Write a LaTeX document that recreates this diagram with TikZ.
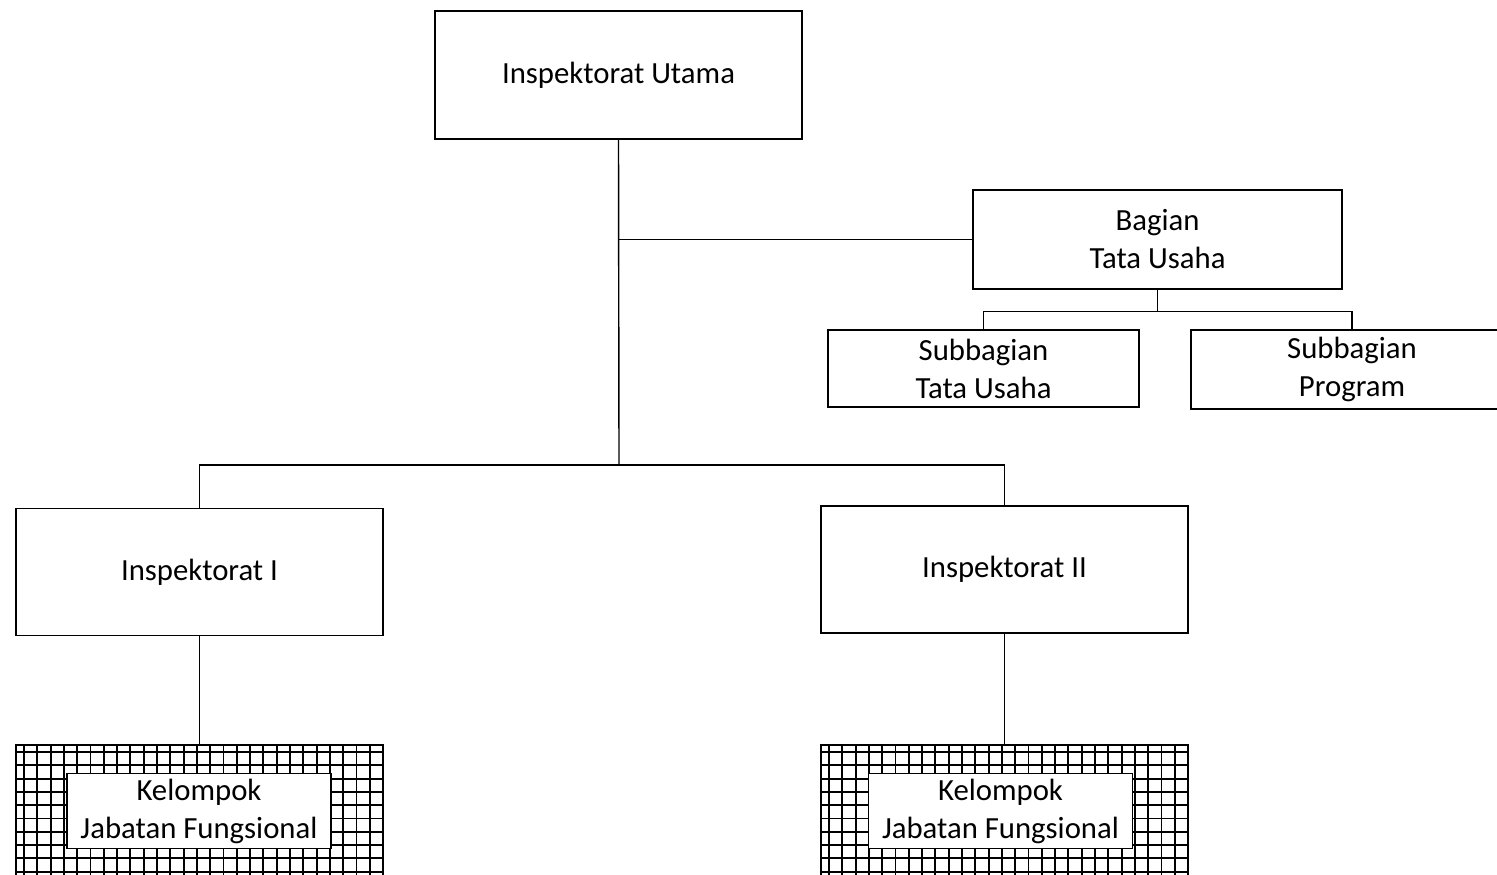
\documentclass[tikz,border=0pt]{standalone}
\usepackage{fontspec}
\setmainfont{Carlito}
\usetikzlibrary{positioning}
\newcommand{\lbl}{\fontsize{17.5}{21.6}\selectfont}

\begin{document}
\begin{tikzpicture}[x=0.02cm,y=-0.02cm,line width=0.8pt,
  box/.style={draw,align=center,inner sep=0pt,font=\lbl},
  gridbox/.style={draw,inner sep=0pt,minimum width=7.34cm,minimum height=2.7cm},
  inbox/.style={box,fill=white,minimum width=5.28cm,minimum height=1.5cm}]
  \clip (0,0) rectangle (1497,875);
  % top level
  \node[box,minimum width=7.34cm,minimum height=2.56cm] (utama) at (618.5,75) {Inspektorat Utama};
  \node[box,minimum width=7.38cm,minimum height=1.98cm] (bagtu) at (1157.5,239.5) {Bagian\\Tata Usaha};
  \node[box,minimum width=6.22cm,minimum height=1.54cm] (subtu) at (983.5,368.5) {Subbagian\\Tata Usaha};
  \node[box,minimum width=6.44cm,minimum height=1.58cm] (subprog) at (1352,369.5) {Subbagian\\Program};
  \node[box,minimum width=7.34cm,minimum height=2.54cm] (insp1) at (199.5,572) {Inspektorat I};
  \node[box,minimum width=7.34cm,minimum height=2.54cm] (insp2) at (1004.5,569.5) {Inspektorat II};
  % grid boxes
  \node[gridbox] (grid1) at (199.5,812.5) {};
  \node[gridbox] (grid2) at (1004.5,812.5) {};
  \foreach \gx in {16,821} {
    \begin{scope}[line width=1.1pt]
      \clip (\gx,746) rectangle (\gx+367,880);
      \foreach \k in {0,...,27}
        \draw (\gx+8+13.3*\k,746) -- (\gx+8+13.3*\k,880);
      \foreach \k in {0,...,9}
        \draw (\gx,752+13.3*\k) -- (\gx+367,752+13.3*\k);
    \end{scope}
  }
  \node[inbox] (kjf1) at (199,811) {Kelompok\\Jabatan Fungsional};
  \node[inbox] (kjf2) at (1000.5,811) {Kelompok\\Jabatan Fungsional};
  % connectors
  \coordinate (split) at (619,465);
  \draw (utama.south) -- (split);
  \draw (utama.south |- bagtu.west) -- (bagtu.west);
  \draw (bagtu.south) -- ++(0,22) coordinate (tusplit);
  \draw (subtu.north) |- (tusplit) -| (subprog.north);
  \draw (insp1.north) |- (split) -| (insp2.north);
  \draw (insp1.south) -- (insp1.south |- grid1.north);
  \draw (insp2.south) -- (insp2.south |- grid2.north);
\end{tikzpicture}
\end{document}
